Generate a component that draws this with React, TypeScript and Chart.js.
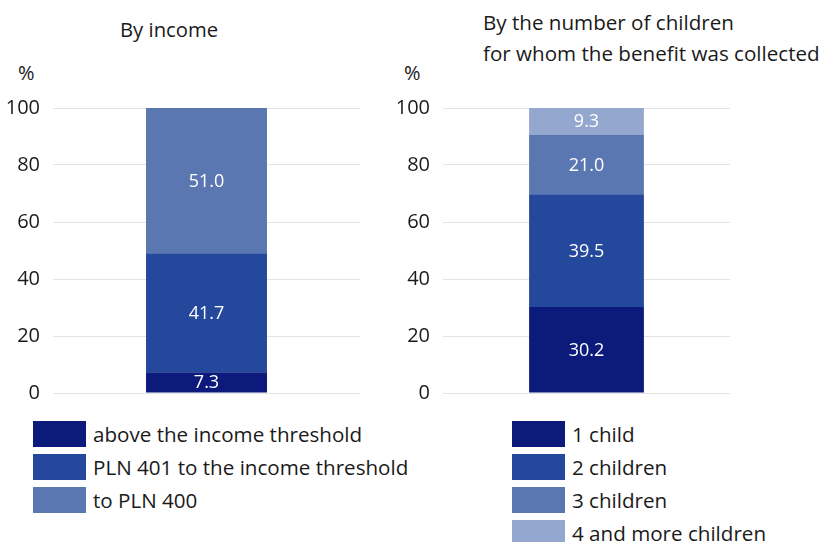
import React, { useEffect, useRef } from "react";
import { Chart, registerables } from "chart.js";
Chart.register(...registerables);

const incomeTitle = ["By income"];
const incomeCategories = ["above the income threshold", "PLN 401 to the income threshold", "to PLN 400"];
const incomeValues = [7.3, 41.7, 51.0];

const childrenTitle = ["By the number of children", "for whom the benefit was collected"];
const childrenCategories = ["1 child", "2 children", "3 children", "4 and more children"];
const childrenValues = [30.2, 39.5, 21.0, 9.3];

const yMin = 0;
const yMax = 100;
const yStep = 20;
const unitLabel = "%";

const colors = ["#0b1a7b", "#24489b", "#5b77b1", "#94a7cf"];
const FONT = "'Open Sans', 'Noto Sans', sans-serif";
const TEXT = "#1a1a1a";

const valueLabels = {
  id: "valueLabels",
  afterDatasetsDraw(chart: any) {
    const ctx = chart.ctx;
    ctx.save();
    ctx.fillStyle = "#ffffff";
    ctx.font = `18px ${FONT}`;
    ctx.textAlign = "center";
    ctx.textBaseline = "middle";
    chart.data.datasets.forEach((ds: any, i: number) => {
      const meta = chart.getDatasetMeta(i);
      meta.data.forEach((el: any, j: number) => {
        const v = ds.data[j];
        const y = (el.y + el.base) / 2;
        ctx.fillText(v.toFixed(1), el.x, y + 1);
      });
    });
    ctx.restore();
  },
};

type PanelProps = {
  categories: string[];
  values: number[];
  left: number;
  width: number;
  axisWidth: number;
  padRight: number;
  barPct: number;
};

const CANVAS_TOP = 83;
const CANVAS_H = 335;

function Panel({ categories, values, left, width, axisWidth, padRight, barPct }: PanelProps) {
  const ref = useRef<HTMLCanvasElement>(null);
  useEffect(() => {
    if (!ref.current) return;
    const chart = new Chart(ref.current, {
      type: "bar",
      data: {
        labels: [""],
        datasets: categories.map((c, i) => ({
          label: c,
          data: [values[i]],
          backgroundColor: colors[i],
          borderWidth: 0,
          barPercentage: barPct,
          categoryPercentage: 1,
        })),
      },
      options: {
        animation: false,
        responsive: false,
        maintainAspectRatio: false,
        layout: { padding: { left: 0, right: padRight, top: 10, bottom: 9 } },
        plugins: { legend: { display: false }, tooltip: { enabled: false }, title: { display: false } },
        scales: {
          x: { stacked: true, display: false },
          y: {
            stacked: true,
            min: yMin,
            max: yMax,
            afterFit: (s: any) => {
              s.width = axisWidth;
            },
            ticks: {
              stepSize: yStep,
              color: TEXT,
              font: { family: FONT, size: 20 },
              padding: 13,
            },
            grid: { color: "#e4e4e4", drawTicks: false, lineWidth: 1 },
            border: { display: false },
          },
        },
      },
      plugins: [valueLabels],
    });
    return () => chart.destroy();
  }, []);
  return (
    <canvas
      ref={ref}
      width={width}
      height={CANVAS_H}
      style={{ position: "absolute", left, top: CANVAS_TOP, width, height: CANVAS_H }}
    />
  );
}

function Legend({ items, boxLeft }: { items: string[]; boxLeft: number }) {
  return (
    <>
      {items.map((t, i) => (
        <div key={t} style={{ position: "absolute", left: boxLeft, top: 421 + i * 33, height: 26, display: "flex", alignItems: "center" }}>
          <div style={{ width: 53, height: 26, background: colors[i] }} />
          <div style={{ marginLeft: 7, fontFamily: FONT, fontSize: 20.6, color: TEXT, whiteSpace: "nowrap", lineHeight: "26px" }}>{t}</div>
        </div>
      ))}
    </>
  );
}

export default function App() {
  return (
    <div style={{ position: "absolute", left: 0, top: 0, width: 826, height: 542, background: "#fff", overflow: "hidden" }}>
      <div style={{ position: "absolute", left: 120, top: 14, fontFamily: FONT, fontSize: 20.3, color: TEXT, lineHeight: "30px" }}>
        {incomeTitle.map((t) => (
          <div key={t}>{t}</div>
        ))}
      </div>
      <div style={{ position: "absolute", left: 483, top: 7, fontFamily: FONT, fontSize: 20.6, color: TEXT, lineHeight: "31px", whiteSpace: "nowrap" }}>
        {childrenTitle.map((t) => (
          <div key={t}>{t}</div>
        ))}
      </div>
      <div style={{ position: "absolute", left: 18, top: 60, fontFamily: FONT, fontSize: 20, color: TEXT, lineHeight: "26px" }}>{unitLabel}</div>
      <div style={{ position: "absolute", left: 404, top: 60, fontFamily: FONT, fontSize: 20, color: TEXT, lineHeight: "26px" }}>{unitLabel}</div>
      <Panel categories={incomeCategories} values={incomeValues} left={0} width={380} axisWidth={53} padRight={20} barPct={0.394} />
      <Panel categories={childrenCategories} values={childrenValues} left={380} width={446} axisWidth={63} padRight={96} barPct={0.4} />
      <Legend items={incomeCategories} boxLeft={33} />
      <Legend items={childrenCategories} boxLeft={512} />
    </div>
  );
}
